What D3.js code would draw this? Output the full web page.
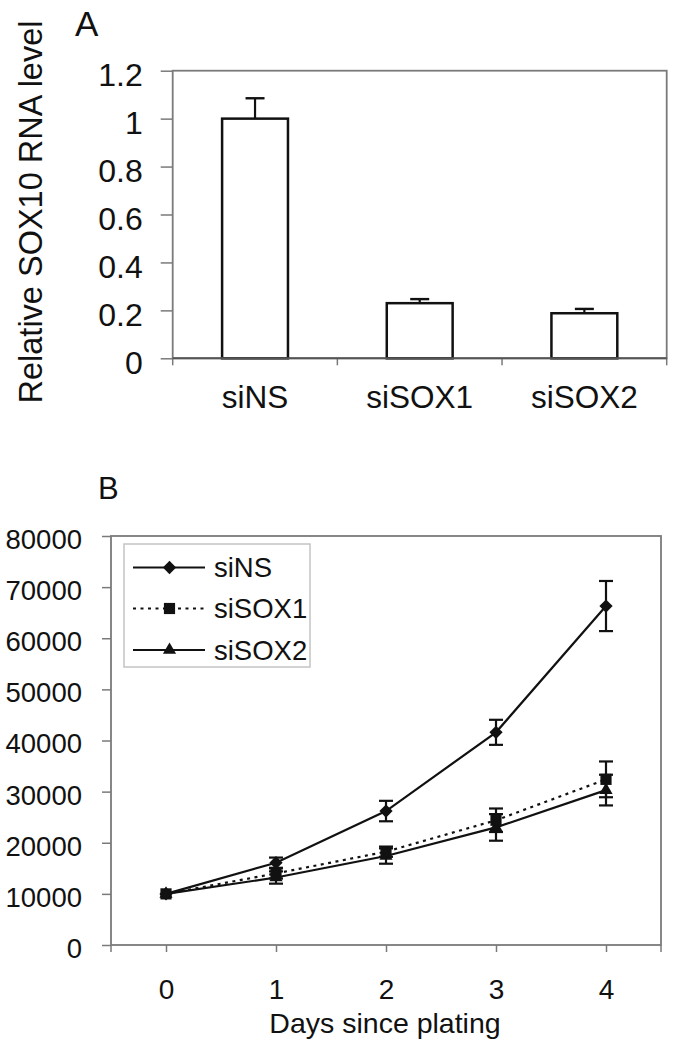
<!DOCTYPE html>
<html>
<head>
<meta charset="utf-8">
<script src="https://cdn.jsdelivr.net/npm/d3@7"></script>
<style>
  html, body { margin: 0; padding: 0; background: #fff; }
  svg { display: block; font-family: "Liberation Sans", Arial, sans-serif; }
</style>
</head>
<body>
<svg id="chart" width="673" height="1050"></svg>
<script>
// ---------- Panel A data ----------
const barCategories = ["siNS", "siSOX1", "siSOX2"];
const barValues = [1.0, 0.23, 0.188];
const barErrors = [0.085, 0.017, 0.018];
const barYTicks = [0, 0.2, 0.4, 0.6, 0.8, 1.0, 1.2];

// ---------- Panel B data ----------
const days = [0, 1, 2, 3, 4];
const dayTicks = [0, 1, 2, 3, 4];
const countYTicks = [0, 10000, 20000, 30000, 40000, 50000, 60000, 70000, 80000];
const seriesNames = ["siNS", "siSOX1", "siSOX2"];
const siNSValues   = [10000, 16100, 26200, 41600, 66300];
const siNSErrors   = [300, 1000, 2000, 2450, 4900];
const siSOX1Values = [10000, 14000, 18250, 24400, 32400];
const siSOX1Errors = [300, 1000, 1000, 2300, 3500];
const siSOX2Values = [10000, 13200, 17400, 23000, 30300];
const siSOX2Errors = [300, 1200, 1500, 2600, 3000];

const svg = d3.select("#chart");
const frameColor = "#7a7a7a";
const ink = "#111";

// ================= PANEL A =================
const A = { left: 172.7, right: 666.7, top: 70.7, bottom: 358.3 };
const xA = d3.scaleBand().domain(barCategories).range([A.left, A.right]).padding(0);
const yA = d3.scaleLinear().domain([0, 1.2]).range([A.bottom, A.top]);

svg.append("text").attr("x", 75).attr("y", 36).attr("font-size", 35).attr("fill", ink).text("A");

// y axis
const yAxisA = svg.append("g").attr("transform", `translate(${A.left},0)`)
  .call(d3.axisLeft(yA).tickValues(barYTicks).tickSize(12).tickPadding(18)
    .tickFormat(d => String(+d.toFixed(1))));
yAxisA.select(".domain").remove();
yAxisA.selectAll(".tick line").attr("stroke", frameColor).attr("stroke-width", 1.5);
yAxisA.selectAll(".tick text").attr("font-size", 32).attr("fill", ink).attr("dy", "0.47em")
  .attr("font-family", "Liberation Sans, Arial, sans-serif");

// x axis labels
const xAxisA = svg.append("g").attr("transform", `translate(0,${A.bottom})`)
  .call(d3.axisBottom(xA).tickSize(0).tickPadding(27));
xAxisA.select(".domain").remove();
xAxisA.selectAll(".tick text").attr("font-size", 31.5).attr("fill", ink)
  .attr("font-family", "Liberation Sans, Arial, sans-serif");

// boundary ticks
const boundaries = barCategories.map(c => xA(c)).concat([xA(barCategories[barCategories.length - 1]) + xA.bandwidth()]);
svg.append("g").selectAll("line").data(boundaries).join("line")
  .attr("x1", d => d).attr("x2", d => d).attr("y1", A.bottom).attr("y2", A.bottom + 7)
  .attr("stroke", frameColor).attr("stroke-width", 1.5);

// frame
svg.append("rect").attr("x", A.left).attr("y", A.top)
  .attr("width", A.right - A.left).attr("height", A.bottom - A.top)
  .attr("fill", "none").attr("stroke", frameColor).attr("stroke-width", 1.8);

// bars
const barW = xA.bandwidth() * 0.4;
const barsA = svg.append("g");
barCategories.forEach((c, i) => {
  const cx = xA(c) + xA.bandwidth() / 2;
  barsA.append("line").attr("x1", cx).attr("x2", cx)
    .attr("y1", yA(barValues[i])).attr("y2", yA(barValues[i] + barErrors[i]))
    .attr("stroke", ink).attr("stroke-width", 2.2);
  barsA.append("line").attr("x1", cx - 9.5).attr("x2", cx + 9.5)
    .attr("y1", yA(barValues[i] + barErrors[i])).attr("y2", yA(barValues[i] + barErrors[i]))
    .attr("stroke", ink).attr("stroke-width", 2.4);
  barsA.append("rect").attr("x", cx - barW / 2).attr("y", yA(barValues[i]))
    .attr("width", barW).attr("height", yA(0) - yA(barValues[i]))
    .attr("fill", "#fff").attr("stroke", ink).attr("stroke-width", 2.5);
});
svg.append("line").attr("x1", A.left).attr("x2", A.right).attr("y1", A.bottom).attr("y2", A.bottom)
  .attr("stroke", "#555").attr("stroke-width", 2);

// y title
svg.append("text").attr("transform", `translate(42,212) rotate(-90)`)
  .attr("text-anchor", "middle").attr("font-size", 32.5).attr("fill", ink)
  .text("Relative SOX10 RNA level");

// ================= PANEL B =================
const B = { left: 111, right: 661, top: 536, bottom: 945 };
const xB = d3.scaleLinear().domain([-0.5, 4.5]).range([B.left, B.right]);
const yB = d3.scaleLinear().domain([0, 80000]).range([B.bottom, B.top]);

svg.append("text").attr("x", 98).attr("y", 499).attr("font-size", 31).attr("fill", ink).text("B");

const yAxisB = svg.append("g").attr("transform", `translate(${B.left},0)`)
  .call(d3.axisLeft(yB).tickValues(countYTicks).tickSize(9).tickPadding(20).tickFormat(d3.format("d")));
yAxisB.select(".domain").remove();
yAxisB.selectAll(".tick line").attr("stroke", frameColor).attr("stroke-width", 1.5);
yAxisB.selectAll(".tick text").attr("font-size", 27.5).attr("fill", ink).attr("dy", "0.45em")
  .attr("font-family", "Liberation Sans, Arial, sans-serif");

const xAxisB = svg.append("g").attr("transform", `translate(0,${B.bottom})`)
  .call(d3.axisBottom(xB).tickValues(dayTicks).tickSize(7).tickPadding(27).tickFormat(d3.format("d")));
xAxisB.select(".domain").remove();
xAxisB.selectAll(".tick line").attr("stroke", frameColor).attr("stroke-width", 1.5);
xAxisB.selectAll(".tick text").attr("font-size", 28).attr("fill", ink)
  .attr("font-family", "Liberation Sans, Arial, sans-serif");
svg.append("g").selectAll("line").data(xB.domain()).join("line")
  .attr("x1", d => xB(d)).attr("x2", d => xB(d)).attr("y1", B.bottom).attr("y2", B.bottom + 7)
  .attr("stroke", frameColor).attr("stroke-width", 1.5);

svg.append("rect").attr("x", B.left).attr("y", B.top)
  .attr("width", B.right - B.left).attr("height", B.bottom - B.top)
  .attr("fill", "none").attr("stroke", frameColor).attr("stroke-width", 1.8);

svg.append("text").attr("x", (B.left + B.right) / 2 - 1).attr("y", 1033)
  .attr("text-anchor", "middle").attr("font-size", 28.5).attr("fill", ink).text("Days since plating");

const seriesVals = [siNSValues, siSOX1Values, siSOX2Values];
const seriesErrs = [siNSErrors, siSOX1Errors, siSOX2Errors];
const dashes = [null, "3,4.5", null];
const symbols = [
  { path: d3.symbol().type(d3.symbolSquare).size(88)(), rotate: 45 },
  { path: d3.symbol().type(d3.symbolSquare).size(125)(), rotate: 0 },
  { path: d3.symbol().type(d3.symbolTriangle).size(75)(), rotate: 0 }
];

const line = d3.line().x((d, i) => xB(days[i])).y(d => yB(d));
const plot = svg.append("g");
[2, 1, 0].forEach(s => {
  plot.append("path").datum(seriesVals[s]).attr("d", line)
    .attr("fill", "none").attr("stroke", ink).attr("stroke-width", 2.2)
    .attr("stroke-dasharray", dashes[s]);
});
[2, 1, 0].forEach(s => {
  const g = plot.append("g");
  seriesVals[s].forEach((v, i) => {
    const cx = xB(days[i]);
    const e = seriesErrs[s][i];
    if (e > 500) {
      g.append("line").attr("x1", cx).attr("x2", cx).attr("y1", yB(v - e)).attr("y2", yB(v + e))
        .attr("stroke", ink).attr("stroke-width", 2.2);
      [v - e, v + e].forEach(w => g.append("line").attr("x1", cx - 7).attr("x2", cx + 7)
        .attr("y1", yB(w)).attr("y2", yB(w)).attr("stroke", ink).attr("stroke-width", 2.2));
    }
    g.append("path").attr("d", symbols[s].path)
      .attr("transform", `translate(${cx},${yB(v)}) rotate(${symbols[s].rotate})`)
      .attr("fill", ink);
  });
});

// legend
const L = { x: 124, y: 544, w: 186, h: 123 };
const leg = svg.append("g");
leg.append("rect").attr("x", L.x).attr("y", L.y).attr("width", L.w).attr("height", L.h)
  .attr("fill", "#fff").attr("stroke", "#c4c4c4").attr("stroke-width", 1.5);
const legY = [567.5, 608.5, 650];
seriesNames.forEach((n, s) => {
  leg.append("line").attr("x1", 133).attr("x2", 205).attr("y1", legY[s]).attr("y2", legY[s])
    .attr("stroke", ink).attr("stroke-width", 2.2).attr("stroke-dasharray", dashes[s]);
  leg.append("path").attr("d", symbols[s].path)
    .attr("transform", `translate(169.5,${legY[s]}) rotate(${symbols[s].rotate})`).attr("fill", ink);
  leg.append("text").attr("x", 214).attr("y", legY[s]).attr("dy", "0.36em")
    .attr("font-size", 27.5).attr("fill", ink).text(n);
});
</script>
</body>
</html>
